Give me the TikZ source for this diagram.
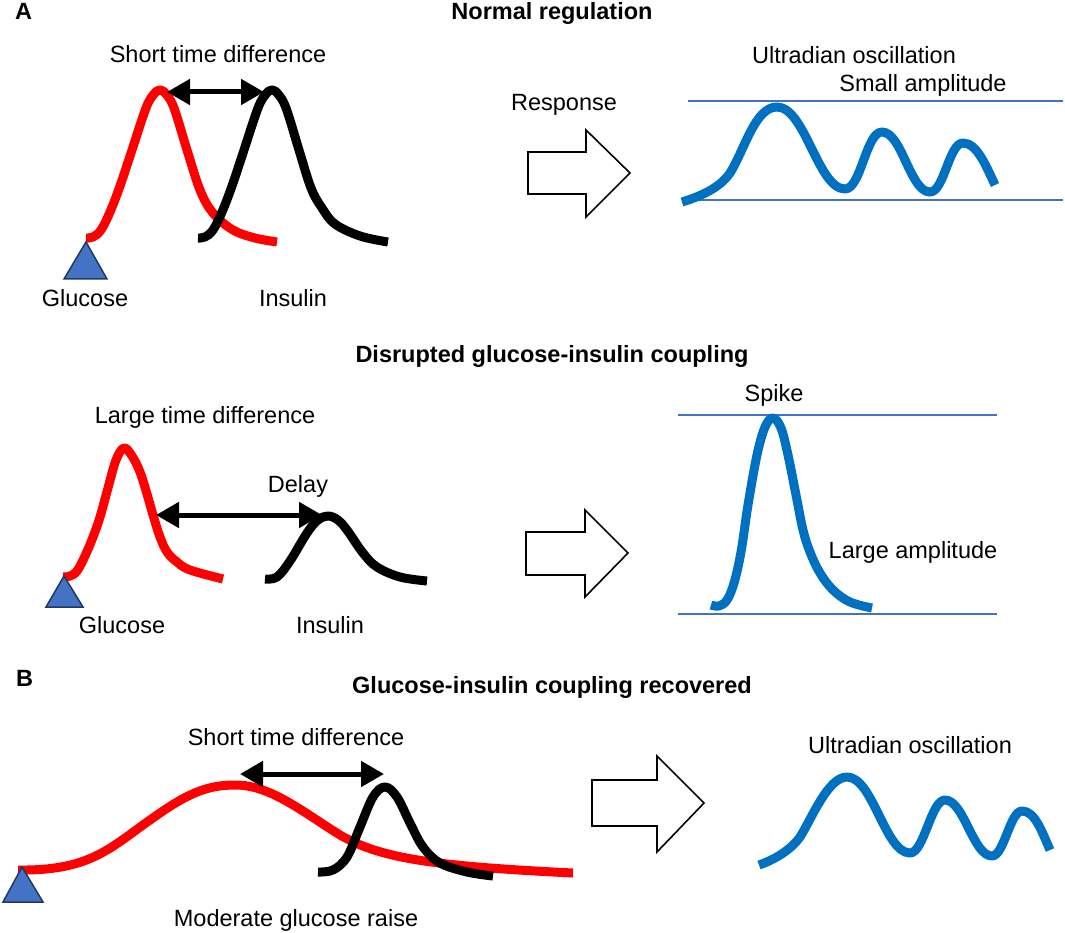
\documentclass[tikz,border=0pt]{standalone}
\usepackage{fontspec}
\setmainfont{Liberation Sans}
\usetikzlibrary{arrows.meta}
\definecolor{gred}{RGB}{255,0,0}
\definecolor{wblue}{RGB}{0,112,192}
\definecolor{lblue}{RGB}{68,114,196}
\definecolor{tnavy}{RGB}{32,56,100}
\begin{document}
\begin{tikzpicture}[x=1pt,y=-1pt,
  lbl/.style={font=\fontsize{23.5}{28}\selectfont, anchor=base, inner sep=0pt},
  ttl/.style={font=\fontsize{23.5}{28}\selectfont\bfseries, anchor=base, inner sep=0pt},
  gcurve/.style={draw=gred, line width=9pt, line join=round},
  icurve/.style={draw=black, line width=9pt, line join=round},
  wave/.style={draw=wblue, line width=9pt, line join=round},
  level/.style={draw=lblue, line width=1.6pt},
  dbl/.style={draw=black, line width=5pt, >={Triangle[length=23pt,width=25pt]}, <->},
  blockarrow/.style={draw=black, line width=1.6pt, fill=white, line join=miter},
  tri/.style={fill=lblue, draw=tnavy, line width=1.5pt, line join=miter}]
\useasboundingbox (0,0) rectangle (1065,933);

% ---------------- Panel A, row 1 ----------------
\node[ttl, anchor=base west] (labA) at (15,20) {A};
\node[ttl] (t1) at (552,20) {Normal regulation};
\node[lbl] (std1) at (218,63) {Short time difference};

\draw[gcurve] plot[smooth, tension=0.6] coordinates {(86,238) (93,237) (101,230) (110,212) (120,186) (132,150) (146,108) (154,94) (160,90) (166,94) (174,108) (187,150) (200,190) (213,213) (233,230) (255,238) (277,242)};
\draw[icurve] plot[smooth, tension=0.6] coordinates {(198,238) (205,237) (213,230) (222,212) (232,186) (244,150) (258,108) (266,94) (272,90) (278,94) (286,108) (299,150) (311,188) (322,208) (335,224) (360,236) (388,242)};
\coordinate (d1a) at (167,92);
\coordinate (d1b) at (264,92);
\draw[dbl] (d1a) -- (d1b);
\draw[tri] (86,242) -- (107,279) -- (64,279) -- cycle;
\node[lbl] (g1) at (85,306) {Glucose};
\node[lbl] (i1) at (293,306) {Insulin};

\node[lbl] (resp) at (564,111) {Response};
\draw[blockarrow] (528,152) -- (586,152) -- (586,130) -- (630,173) -- (586,217) -- (586,194) -- (528,194) -- cycle;

\node[lbl] (uo1) at (854,64) {Ultradian oscillation};
\node[lbl] (sa) at (923,92) {Small amplitude};
\draw[level] (688,101) -- (1063,101);
\draw[level] (688,200) -- (1063,200);
\draw[wave] (682,202) .. controls (705,195) and (721,186) .. (730,173)
  .. controls (745,149) and (755,107) .. (777,107)
  .. controls (805,107) and (818,189) .. (845,189)
  .. controls (861,189) and (866,132) .. (882,132)
  .. controls (902,132) and (910,192) .. (930,192)
  .. controls (944,192) and (949,143) .. (963,143)
  .. controls (977,143) and (986,166) .. (995,185);

% ---------------- Panel A, row 2 ----------------
\node[ttl] (t2) at (552,362) {Disrupted glucose-insulin coupling};
\node[lbl] (ltd) at (205,423) {Large time difference};
\node[lbl] (delay) at (298,492) {Delay};

\draw[gcurve] plot[smooth, tension=0.6] coordinates {(63,577) (70,576) (77,571) (85,556) (93,537) (100,517) (108,488) (116,460) (124,448) (132,456) (140,472) (147,494) (153,515) (160,537) (167,552) (177,562) (190,570) (223,579)};
\draw[icurve] plot[smooth, tension=0.6] coordinates {(265,579) (277,577) (290,561) (307,533) (318,520) (328,516) (338,520) (347,530) (363,553) (377,567) (400,577) (427,581)};
\coordinate (d2a) at (156,515);
\coordinate (d2b) at (322,515);
\draw[dbl] (d2a) -- (d2b);
\draw[tri] (64,576) -- (83,607) -- (46,607) -- cycle;
\node[lbl] (g2) at (122,633) {Glucose};
\node[lbl] (i2) at (330,633) {Insulin};

\draw[blockarrow] (526,532) -- (585,532) -- (585,510) -- (628,553) -- (585,597) -- (585,575) -- (526,575) -- cycle;

\node[lbl] (spike) at (774,401) {Spike};
\node[lbl] (la) at (913,558) {Large amplitude};
\draw[level] (678,415) -- (997,415);
\draw[level] (678,614) -- (997,614);
\draw[wave] plot[smooth, tension=0.6] coordinates {(711,605) (719,606) (727,600) (734,583) (741,552) (748,505) (757,455) (765,427) (773,418) (781,428) (788,455) (796,495) (803,530) (810,552) (820,573) (833,590) (850,602) (872,608)};

% ---------------- Panel B ----------------
\node[ttl, anchor=base west] (labB) at (16,686) {B};
\node[ttl] (t3) at (552,693) {Glucose-insulin coupling recovered};
\node[lbl] (std2) at (296,745) {Short time difference};

\draw[gcurve] (18,870) .. controls (90,871) and (110,848) .. (150,820)
  .. controls (185,795) and (205,785) .. (235,785)
  .. controls (270,785) and (300,810) .. (340,835)
  .. controls (380,858) and (430,866) .. (573,873);
\draw[icurve] plot[smooth, tension=0.6] coordinates {(318,872) (333,870) (347,857) (360,827) (373,797) (385,787) (397,797) (410,823) (423,847) (440,863) (467,872) (493,876)};
\coordinate (d3a) at (240,774);
\coordinate (d3b) at (384,774);
\draw[dbl] (d3a) -- (d3b);
\draw[tri] (22,867) -- (43,902) -- (3,902) -- cycle;
\node[lbl] (mgr) at (296,926) {Moderate glucose raise};

\draw[blockarrow] (592,780) -- (657,780) -- (657,756) -- (704,803) -- (657,852) -- (657,826) -- (592,826) -- cycle;

\node[lbl] (uo2) at (910,753) {Ultradian oscillation};
\draw[wave] (759,865) .. controls (779,858) and (793,847) .. (800,837)
  .. controls (812,818) and (828,777) .. (847,777)
  .. controls (873,777) and (885,853) .. (910,853)
  .. controls (924,853) and (931,800) .. (945,800)
  .. controls (964,800) and (973,856) .. (992,856)
  .. controls (1004,856) and (1010,811) .. (1022,811)
  .. controls (1035,811) and (1042,832) .. (1050,850);
\end{tikzpicture}
\end{document}
